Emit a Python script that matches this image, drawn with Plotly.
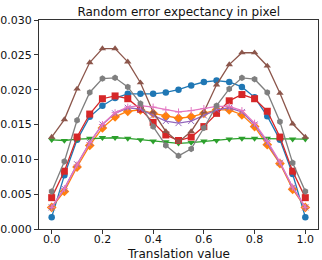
import plotly.graph_objects as go

x_vals = [round(i * 0.05, 2) for i in range(21)]

blue = [0.0017, 0.0077, 0.0128, 0.0161, 0.0177, 0.0188, 0.0194, 0.0194, 0.0194, 0.0196, 0.0200,
        0.0206, 0.0211, 0.0213, 0.0211, 0.0204, 0.0189, 0.0162, 0.0128, 0.0079, 0.0017]
orange = [0.0031, 0.0054, 0.0089, 0.0120, 0.0145, 0.0161, 0.0169, 0.0171, 0.0166, 0.0162, 0.0159,
          0.0161, 0.0166, 0.0171, 0.0171, 0.0164, 0.0147, 0.0121, 0.0094, 0.0057, 0.0031]
green = [0.0128, 0.0127, 0.0129, 0.0130, 0.0131, 0.0131, 0.0130, 0.0128, 0.0126, 0.0125, 0.0123,
         0.0124, 0.0126, 0.0127, 0.0129, 0.0130, 0.0130, 0.0130, 0.0130, 0.0129, 0.0129]
red = [0.0045, 0.0083, 0.0132, 0.0165, 0.0187, 0.0191, 0.0187, 0.0172, 0.0153, 0.0135, 0.0127,
       0.0132, 0.0147, 0.0166, 0.0184, 0.0193, 0.0187, 0.0169, 0.0132, 0.0083, 0.0045]
purple = [0.0031, 0.0058, 0.0093, 0.0124, 0.0150, 0.0166, 0.0174, 0.0172, 0.0163, 0.0155, 0.0152,
          0.0155, 0.0163, 0.0171, 0.0174, 0.0168, 0.0150, 0.0124, 0.0095, 0.0060, 0.0031]
brown = [0.0132, 0.0157, 0.0201, 0.0239, 0.0259, 0.0259, 0.0240, 0.0210, 0.0168, 0.0140, 0.0125,
         0.0140, 0.0168, 0.0207, 0.0236, 0.0253, 0.0253, 0.0234, 0.0195, 0.0151, 0.0132]
pink = [0.0031, 0.0058, 0.0092, 0.0124, 0.0150, 0.0167, 0.0175, 0.0177, 0.0175, 0.0171, 0.0168,
        0.0170, 0.0173, 0.0176, 0.0176, 0.0170, 0.0152, 0.0126, 0.0096, 0.0060, 0.0031]
gray = [0.0054, 0.0097, 0.0156, 0.0196, 0.0216, 0.0217, 0.0204, 0.0180, 0.0147, 0.0120, 0.0105,
        0.0115, 0.0145, 0.0177, 0.0201, 0.0217, 0.0215, 0.0196, 0.0154, 0.0095, 0.0054]

series = [
    (blue, "#1f77b4", "circle", 6.5),
    (orange, "#ff7f0e", "diamond", 7.5),
    (green, "#2ca02c", "triangle-down", 6.5),
    (red, "#d62728", "square", 7),
    (purple, "#9467bd", "x-thin", 6),
    (brown, "#8c564b", "triangle-up", 6.5),
    (pink, "#e377c2", "cross-thin", 5),
    (gray, "#7f7f7f", "hexagon", 6.5),
]

fig = go.Figure()
for ys, col, sym, sz in series:
    thin = sym.endswith("-thin")
    fig.add_trace(go.Scatter(
        x=x_vals, y=ys, mode="lines+markers",
        line=dict(color=col, width=1.3),
        marker=dict(symbol=sym, size=sz, color=col,
                    line=dict(color=col, width=1 if thin else 0)),
        showlegend=False,
    ))

axis_common = dict(
    showline=True, mirror=True, linecolor="#333", linewidth=1,
    ticks="outside", ticklen=4, tickcolor="#333", tickwidth=1,
    showgrid=False, zeroline=False, automargin=False,
    tickfont=dict(family="DejaVu Sans", size=11, color="#111"),
)

fig.update_layout(
    width=322, height=260,
    margin=dict(l=39, r=4, t=20, b=31),
    paper_bgcolor="white", plot_bgcolor="white",
    title=dict(text="Random error expectancy in pixel", x=0.555, xanchor="center",
               y=0.955, yanchor="middle",
               font=dict(family="DejaVu Sans", size=12, color="#111")),
    xaxis=dict(range=[-0.05, 1.05], tickvals=[0, 0.2, 0.4, 0.6, 0.8, 1.0],
               ticktext=["0.0", "0.2", "0.4", "0.6", "0.8", "1.0"],
               ticklabelstandoff=-4,
               **axis_common),
    yaxis=dict(range=[0, 0.030], tickvals=[0, 0.005, 0.01, 0.015, 0.02, 0.025, 0.03],
               tickformat=".3f", **axis_common),
    annotations=[dict(text="Translation value", xref="paper", yref="paper",
                      x=0.5, y=0, xanchor="center", yanchor="top", yshift=-16,
                      showarrow=False,
                      font=dict(family="DejaVu Sans", size=12, color="#111"))],
)

fig.write_html("out.html")
